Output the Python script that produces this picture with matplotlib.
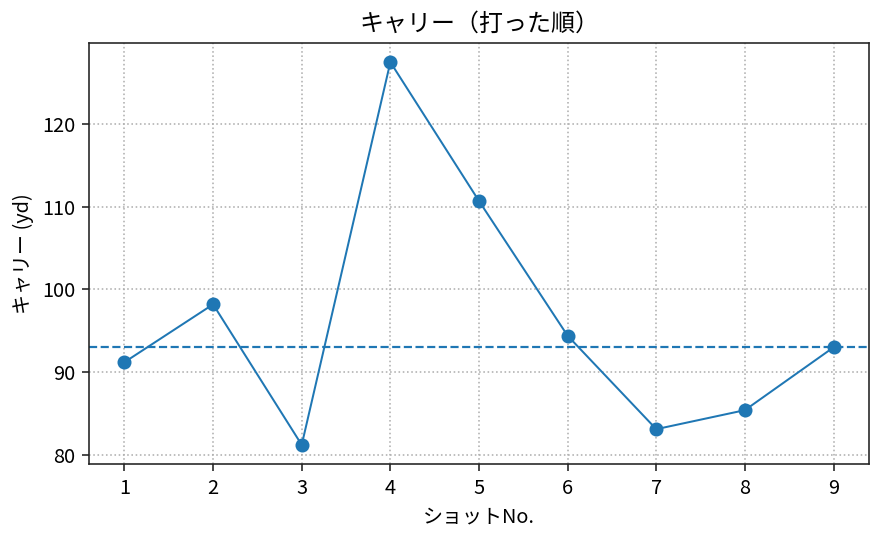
import matplotlib
matplotlib.use("Agg")
import matplotlib.pyplot as plt
import numpy as np

plt.rcParams['font.family'] = ['Noto Sans CJK JP', 'DejaVu Sans']

shots = [1, 2, 3, 4, 5, 6, 7, 8, 9]
carry = [91.2, 98.2, 81.2, 127.5, 110.7, 94.4, 83.1, 85.4, 93.0]
ref_line = float(np.median(carry))

DPI = 144
fig = plt.figure(figsize=(884 / DPI, 541 / DPI), dpi=DPI)
ax = fig.add_axes([89/884, 1-464/541, (869-89)/884, (464-43)/541])
ax.plot(shots, carry, marker='o', color='#1f77b4', linewidth=1.0, markersize=6, zorder=3)
ax.axhline(ref_line, color='#1f77b4', linestyle='--', linewidth=1.1)
ax.grid(True, linestyle=':', color='#b0b0b0', linewidth=0.8)
ax.set_xticks(shots)
ax.set_yticks([80, 90, 100, 110, 120])
ax.set_title('キャリー（打った順）', fontsize=12)
ax.set_xlabel('ショットNo.', fontsize=10)
ax.set_ylabel('キャリー (yd)', fontsize=10)
ax.tick_params(labelsize=10, color='#222222')
for s in ax.spines.values():
    s.set_color('#222222')
fig.savefig('out.png', dpi=DPI)
